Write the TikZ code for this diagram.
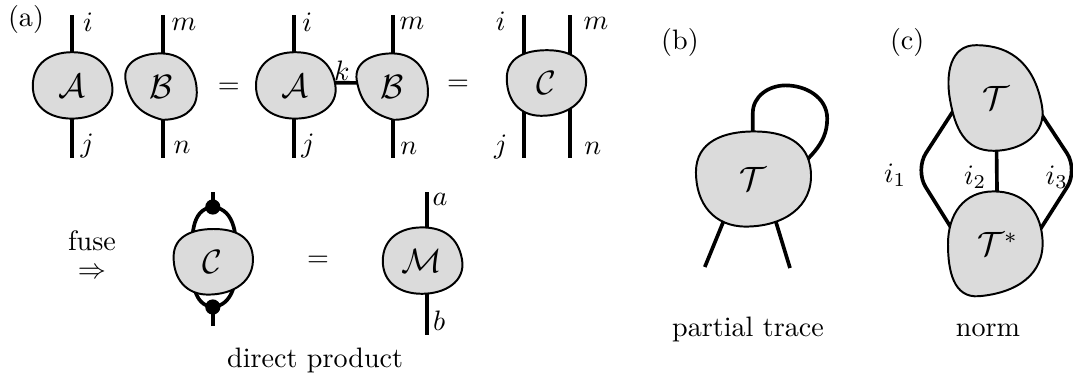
\documentclass[tikz,border=0pt]{standalone}
\usepackage{amsmath}
\pgfdeclarelayer{wires}
\pgfdeclarelayer{blobs}
\pgfsetlayers{wires,blobs,main}

\begin{document}
\begin{tikzpicture}[
    font=\normalsize,
    leg/.style={draw=black, line width=1.3pt},
    blob/.style={draw=black, fill=black!14, line width=0.7pt, looseness=1.1},
    tensor/.style={font=\large, inner sep=1pt},
    idx/.style={inner sep=0pt},
    dot/.style={circle, fill=black, inner sep=0pt, minimum size=0.19cm},
    blobA/.pic={\draw[blob] (0,0.42) to[out=0,in=100] (0.50,0.02) to[out=-80,in=0] (0,-0.41)
      to[out=180,in=-90] (-0.49,0) to[out=90,in=180] cycle;},
    blobB/.pic={\draw[blob] (0,0.42) to[out=0,in=90] (0.45,-0.07) to[out=-90,in=0] (0.02,-0.41)
      to[out=165,in=-80] (-0.44,0.08) to[out=100,in=180] cycle;},
    blobC/.pic={\draw[blob] (0.01,0.41) to[out=0,in=95] (0.50,0.07) to[out=-85,in=0] (-0.06,-0.41)
      to[out=180,in=-90] (-0.49,0.06) to[out=90,in=180] cycle;},
    blobUp/.pic={\draw[blob] (-0.25,0.66) to[out=0,in=100] (0.575,-0.10) to[out=-80,in=0] (-0.03,-0.66)
      to[out=180,in=-80] (-0.575,-0.02) to[out=100,in=180] cycle;},
    blobDn/.pic={\draw[blob] (-0.02,0.66) to[out=0,in=95] (0.59,0.08) to[out=-85,in=5] (-0.2,-0.65)
      to[out=185,in=-90] (-0.59,0.0) to[out=90,in=180] cycle;},
  ]
  \useasboundingbox (0,0) rectangle (13.4125,4.8125);

  % (a) top row: A B = A-k-B = C
  \node (pa) at (0.325,4.575) {(a)};
  \node[tensor] (A1) at (0.90,3.74) {$\mathcal{A}$};
  \node[tensor] (B1) at (2.01,3.725) {$\mathcal{B}$};
  \node (eq1) at (2.86,3.71) {$=$};
  \node[tensor] (A2) at (3.69,3.74) {$\mathcal{A}$};
  \node[tensor] (B2) at (4.90,3.725) {$\mathcal{B}$};
  \node (eq2) at (5.725,3.74) {$=$};
  \node[tensor] (C1) at (6.825,3.775) {$\mathcal{C}$};

  \coordinate (A1t) at (0.90,4.625);  \coordinate (A1b) at (0.90,2.8375);
  \coordinate (B1t) at (2.04,4.625);  \coordinate (B1b) at (2.04,2.8375);
  \coordinate (A2t) at (3.675,4.625); \coordinate (A2b) at (3.675,2.8375);
  \coordinate (B2t) at (4.91,4.625);  \coordinate (B2b) at (4.91,2.8375);
  \coordinate (C1lt) at (6.55,4.625); \coordinate (C1lb) at (6.55,2.8375);
  \coordinate (C1rt) at (7.125,4.625); \coordinate (C1rb) at (7.125,2.8375);

  \node[idx] (iA1) at (1.10,4.54) {$i$};
  \node[idx] (jA1) at (1.09,2.99) {$j$};
  \node[idx] (mB1) at (2.30,4.51) {$m$};
  \node[idx] (nB1) at (2.275,2.975) {$n$};
  \node[idx] (iA2) at (3.84,4.54) {$i$};
  \node[idx] (jA2) at (3.85,2.99) {$j$};
  \node[idx] (kAB) at (4.275,3.925) {$k$};
  \node[idx] (mB2) at (5.15,4.525) {$m$};
  \node[idx] (nB2) at (5.11,2.96) {$n$};
  \node[idx] (iC) at (6.26,4.55) {$i$};
  \node[idx] (mC) at (7.45,4.525) {$m$};
  \node[idx] (jC) at (6.26,2.975) {$j$};
  \node[idx] (nC) at (7.41,2.96) {$n$};

  % (a) bottom row: fused C = M
  \node (fuse) at (1.15,1.63) {\shortstack{fuse\\[3pt]$\Rightarrow$}};
  \node[tensor] (C2) at (2.66,1.54) {$\mathcal{C}$};
  \node[dot] (C2up) at (2.66,2.225) {};
  \node[dot] (C2dn) at (2.66,0.975) {};
  \coordinate (C2t) at (2.66,2.4125);
  \coordinate (C2b) at (2.66,0.7375);
  \node (eq3) at (3.975,1.54) {$=$};
  \node[tensor] (M) at (5.275,1.55) {$\mathcal{M}$};
  \coordinate (Mt) at (5.34,2.4125);  \coordinate (Mb) at (5.34,0.625);
  \node[idx] (aM) at (5.50,2.325) {$a$};
  \node[idx] (bM) at (5.49,0.80) {$b$};
  \node (cap1) at (3.94,0.3125) {direct product};

  % (b) partial trace
  \node (pb) at (8.50,4.2875) {(b)};
  \node[tensor] (T) at (9.41,2.575) {$\mathcal{T}$};
  \coordinate (Tl) at (8.81,1.475);
  \coordinate (Tr) at (9.875,1.4625);
  \node (cap2) at (9.35,0.70) {partial trace};

  % (c) norm
  \node (pc) at (11.34,4.2875) {(c)};
  \node[tensor] (Tc) at (12.45,3.5875) {$\mathcal{T}$};
  \node[tensor] (Ts) at (12.47,1.76) {$\mathcal{T}^{*}$};
  \node[idx] (i1) at (11.19,2.625) {$i_1$};
  \node[idx] (i2) at (12.19,2.60) {$i_2$};
  \node[idx] (i3) at (13.21,2.60) {$i_3$};
  \node (cap3) at (12.35,0.6875) {norm};

  \begin{pgfonlayer}{wires}
    \draw[leg] (A1t) -- (A1b);
    \draw[leg] (B1t) -- (B1b);
    \draw[leg] (A2t) -- (A2b);
    \draw[leg] (B2t) -- (B2b);
    \draw[leg] ([yshift=0.04cm]A2.center) -- ([yshift=0.05cm]B2.center);
    \draw[leg] (C1lt) -- (C1lb);
    \draw[leg] (C1rt) -- (C1rb);

    \draw[leg] (C2t) -- (C2up.center);
    \draw[leg] (C2b) -- (C2dn.center);
    \draw[leg] (C2up.center) to[out=185,in=90] ([xshift=-0.26cm]C2.center);
    \draw[leg] (C2up.center) to[out=-5,in=90] ([xshift=0.30cm]C2.center);
    \draw[leg] ([xshift=-0.26cm]C2.center) to[out=-90,in=175] (C2dn.center);
    \draw[leg] ([xshift=0.30cm]C2.center) to[out=-90,in=5] (C2dn.center);
    \draw[leg] (Mt) -- (Mb);

    \draw[leg] (T.center) -- (9.41,3.40) to[out=90,in=180] (9.82,3.745)
      to[out=0,in=90] (10.34,3.33) to[out=-90,in=50] ([xshift=0.45cm]T.center);
    \draw[leg] (Tl) -- ([xshift=-0.15cm]T.center);
    \draw[leg] (Tr) -- ([xshift=0.125cm]T.center);

    \draw[leg] (Tc.center) -- (Ts.center);
    \draw[leg, rounded corners=0.25cm] (Tc.center) -- (12.125,3.75) -- (11.4375,2.6875)
      -- (12.125,1.5875) -- (Ts.center);
    \draw[leg, rounded corners=0.25cm] (Tc.center) -- (12.775,3.75) -- (13.475,2.6875)
      -- (12.775,1.5875) -- (Ts.center);
  \end{pgfonlayer}

  \begin{pgfonlayer}{blobs}
    \pic at (A1.center) {blobA};
    \pic at (B1.center) {blobB};
    \pic at (A2.center) {blobA};
    \pic at (B2.center) {blobB};
    \pic at (C1.center) {blobC};
    \pic at (C2.center) {blobC};
    \pic at (M.center) {blobA};
    \pic[scale=1.45] at (T.center) {blobC};
    \pic at (Tc.center) {blobUp};
    \pic at ([xshift=-0.03cm]Ts.center) {blobDn};
  \end{pgfonlayer}
\end{tikzpicture}
\end{document}
